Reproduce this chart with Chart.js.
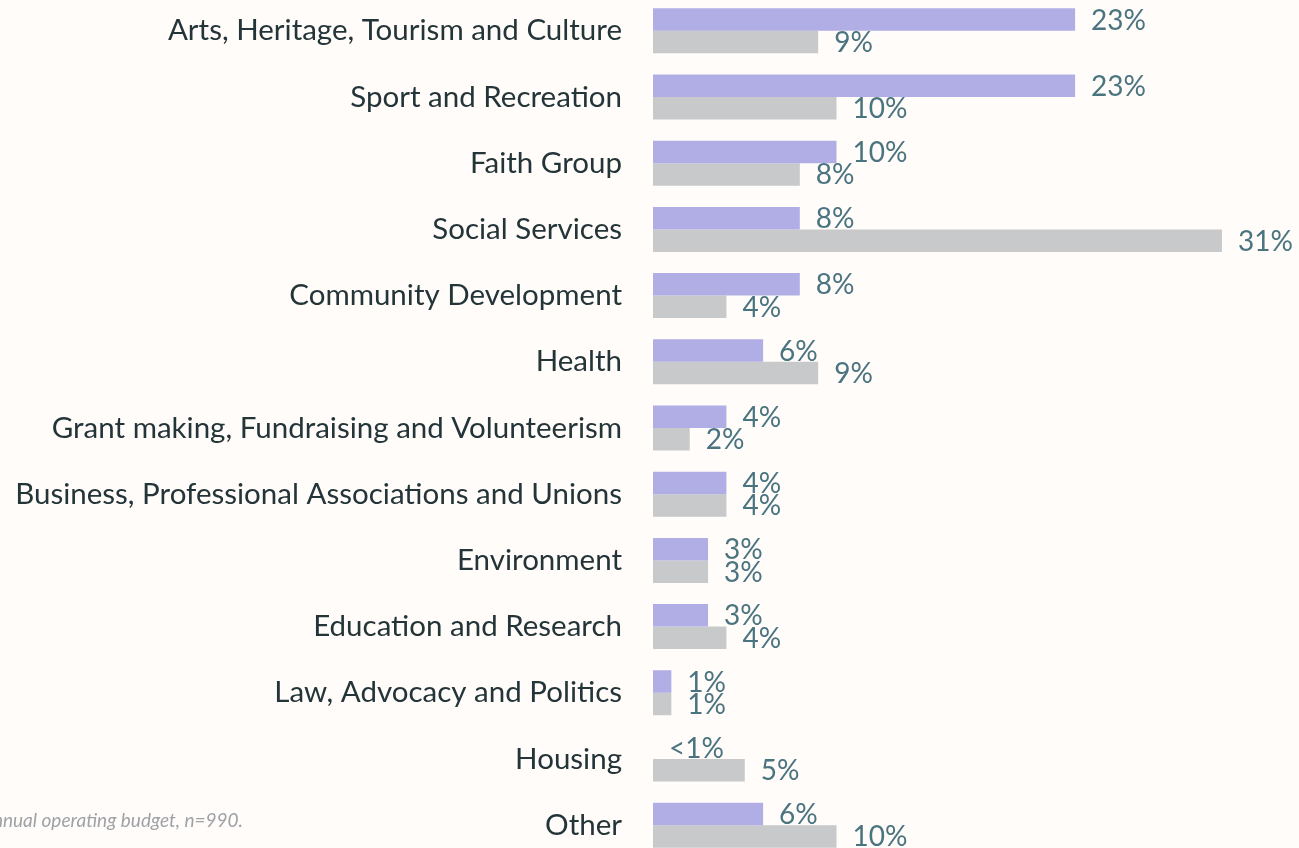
<!DOCTYPE html>
<html>
<head>
<meta charset="utf-8">
<script src="https://cdn.jsdelivr.net/npm/chart.js@4.4.1/dist/chart.umd.min.js"></script>
<style>
    html, body { margin: 0; padding: 0; background: #fffcf9; overflow: hidden; width: 1299px; height: 848px; }
    #wrap { position: absolute; left: 0; top: -43px; width: 1299px; height: 942px; }
    #nota {
        position: absolute; right: calc(1299px - 243px); top: 808px; white-space: nowrap;
        font-family: Lato, sans-serif; font-style: italic; font-size: 19px; color: #9ea2a6;
    }
</style>
</head>
<body>
<div id="wrap"><canvas id="grafico"></canvas></div>
<div id="nota">annual operating budget, n=990.</div>
<script>
// categorias (eixo y)
var categorias = [
    'Arts, Heritage, Tourism and Culture',
    'Sport and Recreation',
    'Faith Group',
    'Social Services',
    'Community Development',
    'Health',
    'Grant making, Fundraising and Volunteerism',
    'Business, Professional Associations and Unions',
    'Environment',
    'Education and Research',
    'Law, Advocacy and Politics',
    'Housing',
    'Other'
];

// serie roxa e serie cinza (%)
var valoresRoxo = [23, 23, 10, 8, 8, 6, 4, 4, 3, 3, 1, 0, 6];
var valoresCinza = [9, 10, 8, 31, 4, 9, 2, 4, 3, 4, 1, 5, 10];

var corRoxo = '#b1aee6';
var corCinza = '#c7c9ca';
var corRotulo = '#4a7480';

function textoRotulo(v) {
    if (v < 1) return '<1%';
    return v + '%';
}

// plugin simples para escrever os valores ao lado das barras
const rotulosBarras = {
    id: 'rotulosBarras',
    afterDatasetsDraw(chart) {
        const ctx = chart.ctx;
        ctx.save();
        ctx.font = '28px Lato, sans-serif';
        ctx.fillStyle = corRotulo;
        ctx.textAlign = 'left';
        ctx.textBaseline = 'middle';
        chart.data.datasets.forEach(function (ds, i) {
            const meta = chart.getDatasetMeta(i);
            meta.data.forEach(function (barra, j) {
                ctx.fillText(textoRotulo(ds.data[j]), barra.x + 16, barra.y + 1);
            });
        });
        ctx.restore();
    }
};

const config = {
    type: 'bar',
    data: {
        labels: categorias,
        datasets: [
            { data: valoresRoxo, backgroundColor: corRoxo },
            { data: valoresCinza, backgroundColor: corCinza }
        ]
    },
    options: {
        indexAxis: 'y',
        responsive: true,
        maintainAspectRatio: false,
        animation: false,
        categoryPercentage: 0.68,
        barPercentage: 1,
        layout: { padding: 0 },
        plugins: {
            legend: { display: false },
            tooltip: { enabled: false }
        },
        scales: {
            x: {
                display: false,
                min: 0,
                max: 35.2
            },
            y: {
                grid: { display: false },
                border: { display: false },
                ticks: {
                    color: '#243539',
                    padding: 23,
                    font: { family: 'Lato, sans-serif', size: 29.5 }
                },
                afterFit(escala) { escala.width = 653; }
            }
        }
    },
    plugins: [rotulosBarras]
};

let meuGrafico = new Chart(document.getElementById('grafico'), config);
</script>
</body>
</html>
